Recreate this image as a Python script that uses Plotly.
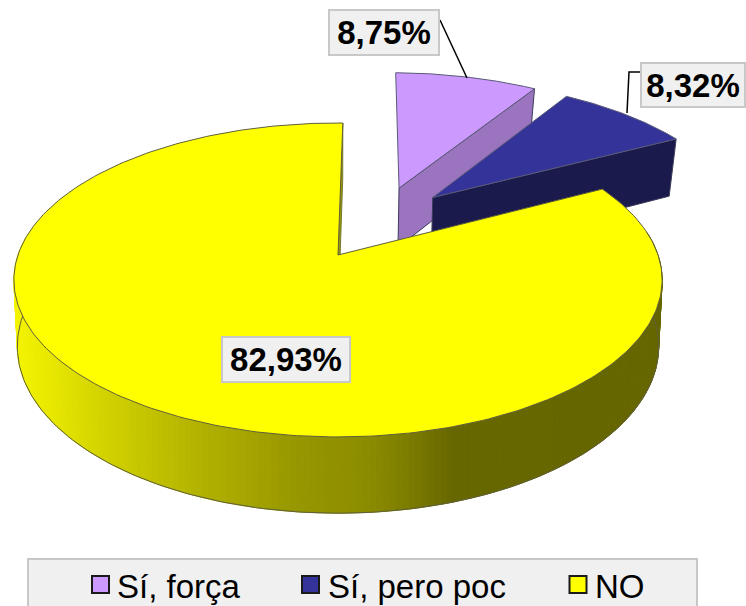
"""
Exploded 3D-look pie chart. Plotly has no 3D pie, so the slices are projected
from the values onto a tilted disc and drawn as filled scatter polygons.
"""

import numpy as np
import plotly.graph_objects as go

LABELS = ["Sí, força", "Sí, pero poc", "NO"]
VALUES = [8.75, 8.32, 82.93]
TOP_COLORS = ["#cc99ff", "#333399", "#ffff00"]
WALL_COLORS = ["#9a74bf", "#1a1a4d", "#999900"]

# Projection of the disc, in page pixels
CX, CY = 338, 255
A, H, K = 320, 153, 0.159
CY_LOW, A_LOW, H_LOW, K_LOW = 318, 316, 162, 0.17
START_DEG = 1.0
EXPLODE = [(0.205, 0.47), (0.315, 0.40), (0.0, 0.0)]

# wall shade of the big slice, by page x
SHADE_X = [13, 60, 100, 200, 300, 370, 400, 450, 650]
SHADE_V = [245, 228, 212, 178, 150, 140, 128, 104, 102]

# label boxes: centre x, centre y, width, height
BOXES = [(384, 32.5, 112, 47), (693, 85, 106, 46), (286, 359.5, 130, 47)]
LEADERS = [([440, 467], [20, 78]), ([627, 629, 640], [113, 72, 72])]

LEGEND_SWATCH_X = [100.5, 310.5, 578]
LEGEND_TEXT_X = [115, 326, 593]


def project(u, v, low=False):
    if low:
        d = 1 + K_LOW * v
        return CX + A_LOW * u / d, CY_LOW - H_LOW * v / d
    d = 1 + K * v
    return CX + A * u / d, CY - H * v / d


def arc(th0, th1, off, low=False, n=160):
    th = np.radians(np.linspace(th0, th1, n))
    return project(off[0] + np.sin(th), off[1] + np.cos(th), low)


def poly(fig, x, y, fill, line="#5f5f3a", width=1):
    fig.add_trace(go.Scatter(
        x=list(x), y=list(y),
        mode="lines",
        fill="toself",
        fillcolor=fill,
        line=dict(color=line, width=width),
        hoverinfo="skip",
        showlegend=False,
    ))


def outline(fig, x, y, color="#5f5f3a", width=1):
    fig.add_trace(go.Scatter(
        x=list(x), y=list(y),
        mode="lines",
        line=dict(color=color, width=width),
        hoverinfo="skip",
        showlegend=False,
    ))


fig = go.Figure()

edges = START_DEG + np.cumsum([0] + VALUES) * 3.6

# exploded slices: radial wall first, then the top face
for i in [0, 1]:
    off = EXPLODE[i]
    th0, th1 = edges[i], edges[i + 1]
    ax, ay = project(off[0], off[1])
    lax, lay = project(off[0], off[1], low=True)
    ex, ey = arc(th1, th1, off, n=1)
    lex, ley = arc(th1, th1, off, low=True, n=1)
    poly(fig, [ax, ex[0], lex[0], lax, ax], [ay, ey[0], ley[0], lay, ay],
         WALL_COLORS[i], line="#3c3c5a")
    tx, ty = arc(th0, th1, off)
    poly(fig, np.r_[ax, tx, ax], np.r_[ay, ty, ay], TOP_COLORS[i], line="#5a5a78")

# big slice: outer wall in narrow strips with a shade along x
th0, th1 = edges[2], edges[3]
off = EXPLODE[2]
ax, ay = project(*off)
lax, lay = project(off[0], off[1], low=True)
ux, uy = arc(th0, th1, off, n=300)
dx, dy = arc(th0, th1, off, low=True, n=300)
for j in range(len(ux) - 1):
    if uy[j] < 235 and uy[j + 1] < 235:
        continue
    s = int(np.interp((ux[j] + ux[j + 1]) / 2, SHADE_X, SHADE_V))
    c = f"rgb({s},{s},0)"
    poly(fig, [ux[j], ux[j + 1], dx[j + 1], dx[j], ux[j]],
         [uy[j], uy[j + 1], dy[j + 1], dy[j], uy[j]], c, line=c)
mask = uy >= 235
outline(fig, dx[mask], dy[mask])

# thin radial wall inside the notch
poly(fig, [ax, ux[-1], dx[-1], lax, ax], [ay, uy[-1], dy[-1], lay, ay],
     WALL_COLORS[2], line="#7a7a30")
poly(fig, np.r_[ax, ux, ax], np.r_[ay, uy, ay], TOP_COLORS[2])

# leader lines
for lx, ly in LEADERS:
    outline(fig, lx, ly, color="#000000", width=1.5)

# percentage labels
for v, (bx, by, bw, bh) in zip(VALUES, BOXES):
    fig.add_annotation(
        x=bx, y=by, text=f"<b>{v:.2f}%</b>".replace(".", ","),
        showarrow=False,
        width=bw - 4, height=bh - 4,
        align="center", valign="middle",
        bgcolor="#f0f0f0", bordercolor="#c8c8c8", borderwidth=2, borderpad=0,
        font=dict(family="Liberation Sans", size=33, color="#000000"),
    )

# legend
fig.add_shape(type="rect", x0=28, x1=697, y0=559, y1=608, layer="below",
              fillcolor="#f0f0f0", line=dict(color="#c8c8c8", width=2))
fig.add_trace(go.Scatter(
    x=LEGEND_SWATCH_X, y=[584.5] * 3,
    mode="markers",
    marker=dict(symbol="square", size=17, color=TOP_COLORS,
                line=dict(color="#1a1a1a", width=2)),
    hoverinfo="skip",
    showlegend=False,
))
for name, tx0 in zip(LABELS, LEGEND_TEXT_X):
    fig.add_annotation(
        x=tx0, y=586, text=name, showarrow=False,
        xanchor="left", yanchor="middle",
        font=dict(family="Liberation Sans", size=33, color="#000000"),
    )

fig.update_layout(
    width=746, height=606,
    margin=dict(l=0, r=0, t=0, b=0),
    paper_bgcolor="#ffffff",
    plot_bgcolor="#ffffff",
    showlegend=False,
    xaxis=dict(range=[0, 746], visible=False, fixedrange=True),
    yaxis=dict(range=[606, 0], visible=False, fixedrange=True),
)

fig.write_html("out.html", config=dict(displayModeBar=False),
               post_script="document.body.style.margin = '0';")
